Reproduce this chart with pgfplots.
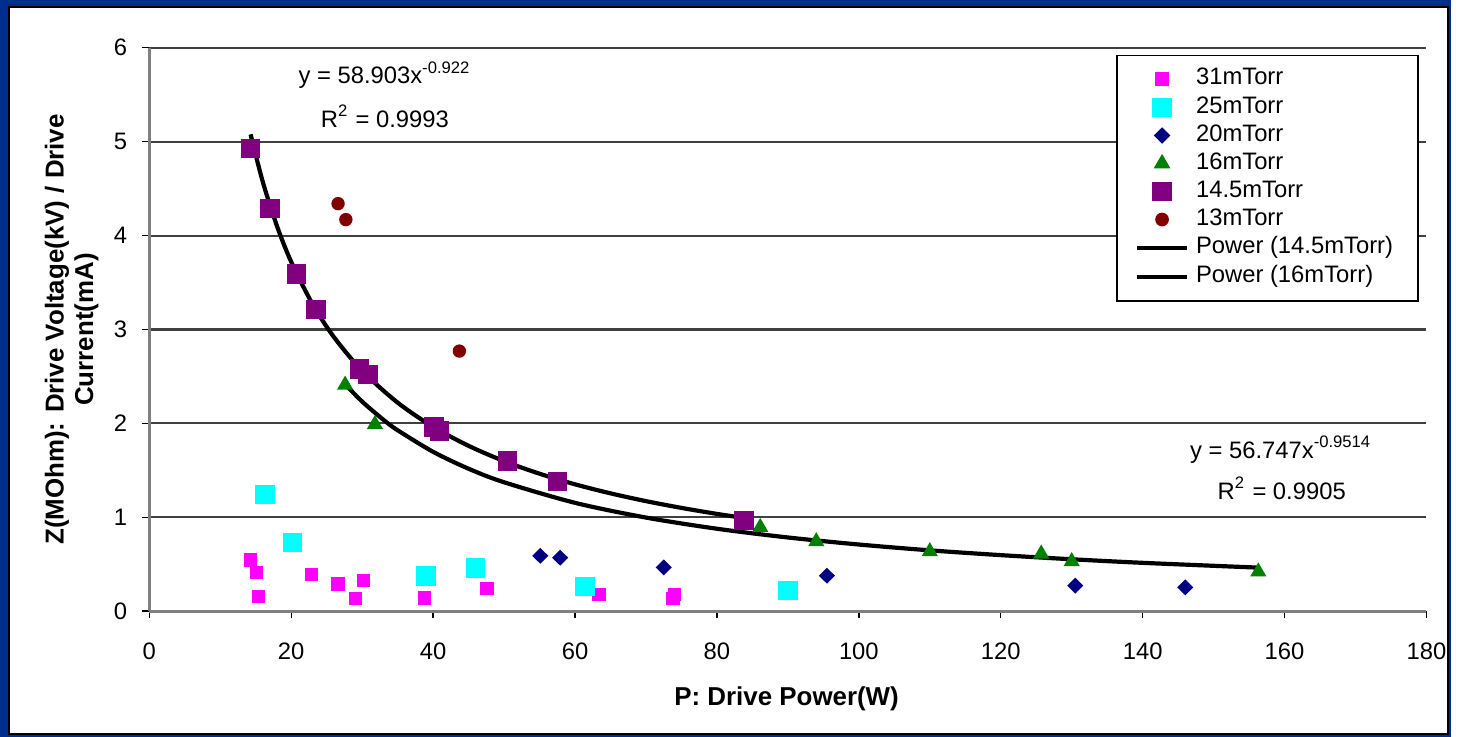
\documentclass[border=0pt]{standalone}
\usepackage{fontspec}
\setmainfont{Liberation Sans}
\usepackage{pgfplots}
\pgfplotsset{compat=1.18}
\definecolor{frameblue}{HTML}{002E8E}
\definecolor{gridgray}{HTML}{404040}
\definecolor{ptmag}{HTML}{FF00FF}
\definecolor{ptcyan}{HTML}{00FFFF}
\definecolor{ptnavy}{HTML}{000080}
\definecolor{ptgreen}{HTML}{008000}
\definecolor{ptpurple}{HTML}{800080}
\definecolor{ptred}{HTML}{800000}
\newcommand{\smallfont}{\fontsize{6.8}{8}\selectfont}
\newcommand{\labfont}{\fontsize{7.4}{8.4}\selectfont\bfseries}
\begin{document}
\begin{tikzpicture}
% outer frame, 1px = 0.1mm
\fill[frameblue] (-15mm,-12.6mm) rectangle (130.8mm,61.4mm);
\fill[black] (-14.2mm,-12.4mm) rectangle (130.6mm,60.8mm);
\fill[white] (-14.0mm,-12.2mm) rectangle (130.4mm,60.6mm);
\begin{axis}[
  at={(0,0)}, anchor=south west,
  scale only axis,
  width=128.3mm, height=56.6mm,
  xmin=0, xmax=180, ymin=0, ymax=6,
  xtick={0,20,...,180}, ytick={0,1,...,6},
  axis x line*=bottom, axis y line*=left,
  axis line style={gray, line width=0.9pt},
  ymajorgrids, grid style={gridgray, line width=0.6pt},
  tick align=outside, major tick length=0.7mm,
  tick style={black, line width=0.4pt},
  tick label style={font=\smallfont},
  /pgf/number format/assume math mode=true,
  xticklabel style={yshift=-1.2mm},
  yticklabel style={xshift=-0.3mm},
  xlabel={P: Drive Power(W)},
  xlabel style={font=\labfont, at={(axis description cs:0.499,0)}, anchor=center, yshift=-8.8mm},
  ylabel={Z(MOhm): Drive Voltage(kV) / Drive\\Current(mA)},
  ylabel style={font=\labfont, align=center, at={(axis description cs:-0.0608,0.5)}, anchor=center},
  clip=false,
  legend image code/.code={\draw[mark repeat=2,mark phase=2,#1] plot coordinates {(0mm,0mm) (2.5mm,0mm) (5mm,0mm)};},
  legend cell align=left,
  legend style={at={(0.994,0.988)}, anchor=north east, draw=black, line width=0.5pt,
    font=\smallfont, row sep=-0.78mm, inner xsep=1.8mm, inner ysep=0.6mm,
    /tikz/every even column/.append style={column sep=1mm}},
]
\addplot[only marks, mark=square*, mark size=0.6mm, ptmag, mark options={draw=ptmag, fill=ptmag}] coordinates {
  (14.3,0.544) (15.1,0.413) (15.4,0.159) (22.9,0.392) (26.6,0.290) (29.1,0.138)
  (30.2,0.329) (38.8,0.141) (47.6,0.244) (63.4,0.180) (74.0,0.180) (73.8,0.138)
};
\addlegendentry{31mTorr}
\addplot[only marks, mark=square*, mark size=0.9mm, ptcyan, mark options={draw=ptcyan, fill=ptcyan}] coordinates {
  (16.3,1.24) (20.2,0.735) (39.0,0.374) (46.0,0.46) (61.4,0.265) (90.0,0.219)
};
\addlegendentry{25mTorr}
\addplot[only marks, mark=diamond*, mark size=0.7mm, ptnavy, mark options={draw=ptnavy, fill=ptnavy, xscale=1.35}] coordinates {
  (55.1,0.59) (57.9,0.57) (72.5,0.466) (95.5,0.378) (130.5,0.272) (146.0,0.254)
};
\addlegendentry{20mTorr}
\addplot[only marks, mark=triangle*, mark size=0.8mm, ptgreen, mark options={draw=ptgreen, fill=ptgreen}] coordinates {
  (27.6,2.41) (31.8,1.99) (86.1,0.894) (94.0,0.742) (110.0,0.636) (125.7,0.611)
  (130.0,0.530) (156.3,0.420)
};
\addlegendentry{16mTorr}
\addplot[only marks, mark=square*, mark size=0.9mm, ptpurple, mark options={draw=ptpurple, fill=ptpurple}] coordinates {
  (14.3,4.93) (17.0,4.29) (20.7,3.59) (23.5,3.21) (29.6,2.58) (30.8,2.52)
  (40.1,1.96) (40.9,1.92) (50.5,1.60) (57.5,1.38) (83.8,0.965)
};
\addlegendentry{14.5mTorr}
\addplot[only marks, mark=*, mark size=0.6mm, ptred, mark options={draw=ptred, fill=ptred}] coordinates {
  (26.6,4.34) (27.7,4.17) (43.7,2.77)
};
\addlegendentry{13mTorr}
% power trendline 14.5mTorr: y = 58.903 x^-0.922 (sampled)
\addplot[black, line width=1.2pt, smooth] coordinates {
  (14.27,5.078) (16,4.570) (18,4.100) (20,3.720) (23,3.271) (26,2.921) (30,2.560)
  (35,2.221) (40,1.963) (45,1.761) (50,1.598) (55,1.464) (60,1.351) (65,1.255)
  (70,1.172) (75,1.100) (80,1.036) (83.8,0.993)
};
\addlegendentry{Power (14.5mTorr)}
% power trendline 16mTorr: y = 56.747 x^-0.9514 (sampled)
\addplot[black, line width=1.2pt, smooth] coordinates {
  (27.6,2.416) (30,2.232) (33,2.038) (35,1.927) (40,1.697) (45,1.517) (50,1.373)
  (60,1.154) (70,0.997) (80,0.878) (90,0.785) (100,0.710) (110,0.648) (120,0.597)
  (130,0.553) (140,0.515) (156.3,0.464)
};
\addlegendentry{Power (16mTorr)}
\node[font=\smallfont, anchor=center] at (axis cs:33.2,5.71) {y = 58.903x\textsuperscript{-0.922}};
\node[font=\smallfont, anchor=center] at (axis cs:33.2,5.27) {R\textsuperscript{2} = 0.9993};
\node[font=\smallfont, anchor=center] at (axis cs:159.5,1.72) {y = 56.747x\textsuperscript{-0.9514}};
\node[font=\smallfont, anchor=center] at (axis cs:159.6,1.31) {R\textsuperscript{2} = 0.9905};
\end{axis}
\end{tikzpicture}
\end{document}
